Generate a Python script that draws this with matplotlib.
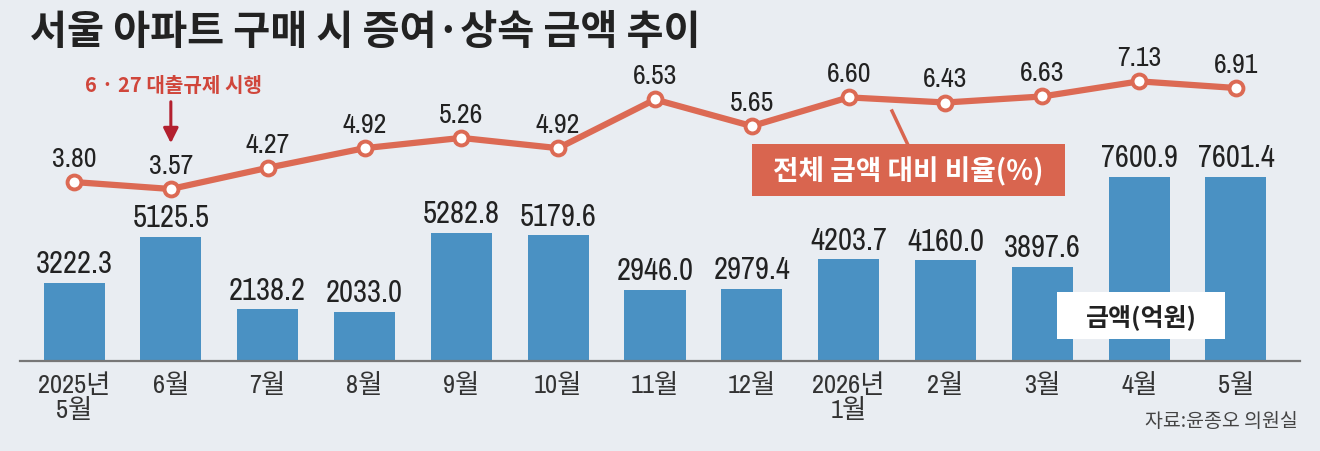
import matplotlib
matplotlib.use("Agg")
import matplotlib.pyplot as plt
from matplotlib import font_manager
from matplotlib.patches import Rectangle

# --- DONNEES ---
months = ["2025년\n5월", "6월", "7월", "8월", "9월", "10월", "11월", "12월",
          "2026년\n1월", "2월", "3월", "4월", "5월"]
amount = [3222.3, 5125.5, 2138.2, 2033.0, 5282.8, 5179.6, 2946.0, 2979.4,
          4203.7, 4160.0, 3897.6, 7600.9, 7601.4]
ratio = [3.80, 3.57, 4.27, 4.92, 5.26, 4.92, 6.53, 5.65,
         6.60, 6.43, 6.63, 7.13, 6.91]

# --- STYLE ---
BG = "#e9edf2"
BAR = "#4a91c3"
LINE = "#dc6a54"
BOX = "#d9654f"
KR = "Noto Sans CJK KR"

# police etroite pour les chiffres, si on en trouve une
narrow, stretch = None, "normal"
for f in font_manager.fontManager.ttflist:
    if "Narrow" in f.name or "Condensed" in f.name:
        narrow = f.name
        break
if narrow is None:
    for f in font_manager.fontManager.ttflist:
        if f.stretch in ("condensed", "semi-condensed", "extra-condensed") \
                and f.style == "normal":
            narrow, stretch = f.name, f.stretch
            break
if narrow is None:
    NUM, NSIZE, LSIZE, TSIZE = [KR], 17, 16, 16
else:
    NUM, NSIZE, LSIZE, TSIZE = [narrow, KR], 22, 20, 19
plt.rcParams["font.family"] = [KR, "DejaVu Sans"]

W, H = 1320, 452
fig = plt.figure(figsize=(W / 100, H / 100), dpi=100, facecolor=BG)


def px(x, y):
    # pixels (origine en haut a gauche) -> fraction de figure
    return x / W, 1 - y / H


ax = fig.add_axes([20 / W, 1 - 362 / H, 1280 / W, 362 / H])
ax.set_facecolor("none")
x = list(range(len(months)))
ax.bar(x, amount, width=0.63, color=BAR, zorder=2)
ax.set_xlim(-0.5577, 12.661)
ax.set_ylim(0, 14940)
for xi, v in zip(x, amount):
    ax.annotate(f"{v:.1f}", (xi, v), xytext=(0, 4), textcoords="offset points",
                ha="center", va="bottom", fontsize=NSIZE, color="#222",
                family=NUM, fontstretch=stretch)
ax.set_xticks(x)
ax.set_xticklabels(months, fontsize=TSIZE, color="#333", family=NUM,
                   fontstretch=stretch, linespacing=1.05)
ax.tick_params(axis="x", length=0, pad=8)
ax.set_yticks([])
for s in ["top", "left", "right"]:
    ax.spines[s].set_visible(False)
ax.spines["bottom"].set_color("#777")
ax.spines["bottom"].set_linewidth(1.6)

# Courbe (ratio)
ax2 = ax.twinx()
ax2.set_ylim(-2.118, 9.853)
ax2.plot(x, ratio, color=LINE, lw=4.5, marker="o", markersize=10,
         markerfacecolor="white", markeredgecolor=LINE, markeredgewidth=2.8,
         zorder=3)
for xi, v in zip(x, ratio):
    ax2.annotate(f"{v:.2f}", (xi, v), xytext=(0, 8), textcoords="offset points",
                 ha="center", va="bottom", fontsize=LSIZE, color="#222",
                 family=NUM, fontstretch=stretch)
ax2.set_yticks([])
for s in ax2.spines.values():
    s.set_visible(False)

# Annotation 6.27
tr = ax.get_xaxis_transform()
ax.annotate("", xy=(1, (362 - 147) / 362), xytext=(1, (362 - 100) / 362),
            xycoords=tr, textcoords=tr,
            arrowprops=dict(arrowstyle="-|>,head_length=0.9,head_width=0.45",
                            color="#b3202f", lw=2.2))
ax.text(1.03, (362 - 86) / 362, "6 · 27 대출규제 시행", transform=tr,
        ha="center", va="center", fontsize=14.5, color="#d0463b",
        fontweight="bold")

# Titre
fig.text(*px(30, 32), "서울 아파트 구매 시 증여·상속 금액 추이", ha="left",
         va="center", fontsize=29, fontweight="bold", color="#222")

# Legende courbe
x0, y0 = px(752, 197)
fig.patches.append(Rectangle((x0, y0), 313 / W, 52 / H, transform=fig.transFigure,
                             facecolor=BOX, edgecolor="none", zorder=4))
fig.lines.append(plt.Line2D([892 / W, 908 / W], [1 - 112 / H, 1 - 146 / H],
                            transform=fig.transFigure, color=BOX, lw=2.5,
                            zorder=4))
fig.text(*px(908, 172), "전체 금액 대비 비율(%)", ha="center", va="center",
         fontsize=20, fontweight="bold", color="white", zorder=5)

# Legende barres
x0, y0 = px(1057, 340)
fig.patches.append(Rectangle((x0, y0), 168 / W, 47 / H, transform=fig.transFigure,
                             facecolor="white", edgecolor="none", zorder=4))
fig.text(*px(1141, 317), "금액(억원)", ha="center", va="center",
         fontsize=18, fontweight="bold", color="#222", zorder=5)

# Source
fig.text(*px(1298, 422), "자료:윤종오 의원실", ha="right", va="center",
         fontsize=14, color="#444")

fig.savefig("out.png", dpi=100, facecolor=BG)
